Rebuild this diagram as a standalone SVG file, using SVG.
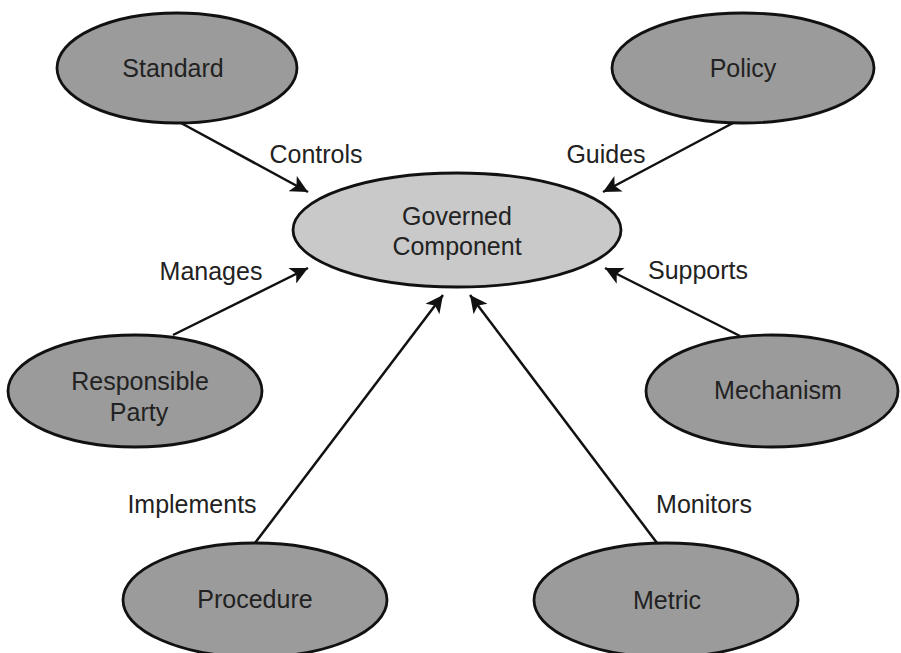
<svg xmlns="http://www.w3.org/2000/svg" width="901" height="653" viewBox="0 0 901 653">
  <style>
    .node { fill: #9b9b9b; stroke: #111; stroke-width: 2.8; }
    .hub { fill: #c9c9c9; stroke: #111; stroke-width: 2.8; }
    .label { font-family: "Liberation Sans", Arial, sans-serif; font-size: 25px; fill: #222; text-anchor: middle; }
    .edge { stroke: #111; stroke-width: 2.5; fill: none; marker-end: url(#arrow); }
  </style>
  <defs>
    <marker id="arrow" viewBox="0 0 10 10" refX="10" refY="5" markerWidth="8" markerHeight="7" markerUnits="strokeWidth" orient="auto">
      <path d="M0,0 L10,5 L0,10 L2.5,5 Z" fill="#111"/>
    </marker>
  </defs>
  <rect width="901" height="653" fill="#fff"/>

  <g id="connectors">
    <line class="edge" x1="181" y1="123" x2="308" y2="192"/>
    <line class="edge" x1="733" y1="123" x2="603" y2="192"/>
    <line class="edge" x1="173" y1="335" x2="308" y2="268"/>
    <line class="edge" x1="740" y1="336" x2="605" y2="268"/>
    <line class="edge" x1="255" y1="543" x2="443" y2="295"/>
    <line class="edge" x1="657" y1="543" x2="470" y2="295"/>
    <text class="label" x="316" y="163">Controls</text>
    <text class="label" x="606" y="163">Guides</text>
    <text class="label" x="211" y="280">Manages</text>
    <text class="label" x="698" y="279">Supports</text>
    <text class="label" x="192" y="513">Implements</text>
    <text class="label" x="704" y="513">Monitors</text>
  </g>

  <g id="governed-component">
    <ellipse class="hub" cx="457" cy="230" rx="164" ry="57"/>
    <text class="label" x="457" y="225">Governed</text>
    <text class="label" x="457" y="255">Component</text>
  </g>
  <g id="standard">
    <ellipse class="node" cx="177" cy="68" rx="120" ry="55"/>
    <text class="label" x="173" y="77">Standard</text>
  </g>
  <g id="policy">
    <ellipse class="node" cx="743" cy="68" rx="131" ry="55"/>
    <text class="label" x="743" y="77">Policy</text>
  </g>
  <g id="responsible-party">
    <ellipse class="node" cx="135" cy="391" rx="127" ry="56"/>
    <text class="label" x="140" y="390">Responsible</text>
    <text class="label" x="139" y="421">Party</text>
  </g>
  <g id="mechanism">
    <ellipse class="node" cx="772" cy="391" rx="126" ry="56"/>
    <text class="label" x="778" y="399">Mechanism</text>
  </g>
  <g id="procedure">
    <ellipse class="node" cx="255" cy="600" rx="132" ry="57"/>
    <text class="label" x="255" y="608">Procedure</text>
  </g>
  <g id="metric">
    <ellipse class="node" cx="666" cy="600" rx="132" ry="57"/>
    <text class="label" x="667" y="609">Metric</text>
  </g>
</svg>
